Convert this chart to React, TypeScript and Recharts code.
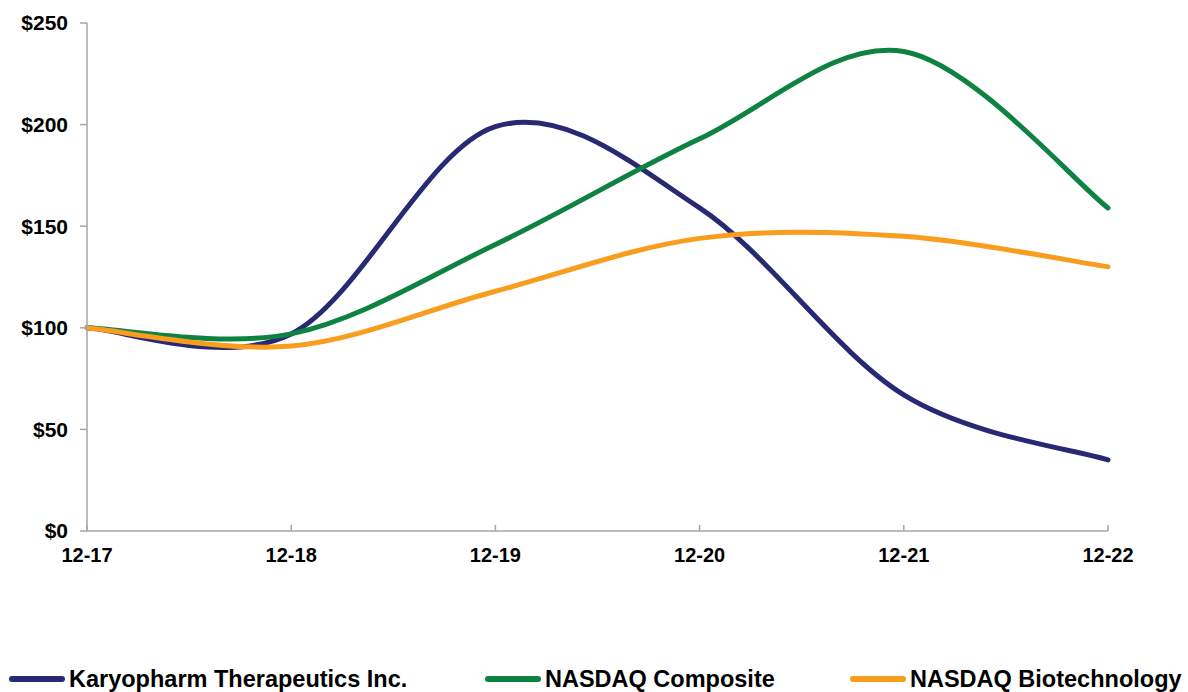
import React from 'react';
import { LineChart, Line, XAxis, YAxis } from 'recharts';

const years = ['12-17', '12-18', '12-19', '12-20', '12-21', '12-22'];
const karyopharm = [100, 97, 199, 159, 67, 35];
const nasdaqComposite = [100, 97, 141, 193, 236, 159];
const nasdaqBiotech = [100, 91, 118, 144, 145, 130];
const yTicks = [0, 50, 100, 150, 200, 250];

const series = [
  { key: 'karyopharm', name: 'Karyopharm Therapeutics Inc.', color: '#272a73', left: 9 },
  { key: 'composite', name: 'NASDAQ Composite', color: '#0e8241', left: 485 },
  { key: 'biotech', name: 'NASDAQ Biotechnology', color: '#f99d1e', left: 850 },
];

const data = years.map((year, i) => ({
  year,
  karyopharm: karyopharm[i],
  composite: nasdaqComposite[i],
  biotech: nasdaqBiotech[i],
}));

// Excel-style smoothed line (Catmull-Rom as cubic beziers)
const excelCurve = (context: any) => {
  let pts: number[][] = [];
  return {
    areaStart() {},
    areaEnd() {},
    lineStart() {
      pts = [];
    },
    lineEnd() {
      if (!pts.length) return;
      context.moveTo(pts[0][0], pts[0][1]);
      for (let i = 0; i < pts.length - 1; i++) {
        const p0 = pts[Math.max(i - 1, 0)];
        const p1 = pts[i];
        const p2 = pts[i + 1];
        const p3 = pts[Math.min(i + 2, pts.length - 1)];
        context.bezierCurveTo(
          p1[0] + (p2[0] - p0[0]) / 6,
          p1[1] + (p2[1] - p0[1]) / 6,
          p2[0] - (p3[0] - p1[0]) / 6,
          p2[1] - (p3[1] - p1[1]) / 6,
          p2[0],
          p2[1]
        );
      }
    },
    point(x: number, y: number) {
      pts.push([+x, +y]);
    },
  };
};

const font = '"Liberation Sans", Arial, sans-serif';
const axisGray = '#a6a6a6';

// x ticks in the original point up into the plot
const XTick = (props: any) => {
  const { x, y, payload } = props;
  return (
    <g>
      <line x1={x} y1={y} x2={x} y2={y - 6} stroke={axisGray} strokeWidth={1.5} />
      <text x={x} y={y + 31} textAnchor="middle" fill="#000" fontSize={20} fontWeight="bold" fontFamily={font}>
        {payload.value}
      </text>
    </g>
  );
};

export default function App() {
  return (
    <div style={{ position: 'absolute', left: 0, top: 0, width: 1188, height: 692, background: '#fff' }}>
      <LineChart width={1188} height={692} data={data} margin={{ top: 23, right: 80, left: 0, bottom: 131 }}>
        <XAxis
          dataKey="year"
          tick={<XTick />}
          axisLine={{ stroke: axisGray, strokeWidth: 1.5 }}
          tickLine={false}
          tickSize={0}
          tickMargin={0}
          height={30}
          interval={0}
        />
        <YAxis
          domain={[0, 250]}
          ticks={yTicks}
          tickFormatter={v => `$${v}`}
          tick={{ fill: '#000', fontSize: 21, fontWeight: 'bold', fontFamily: font }}
          axisLine={{ stroke: axisGray, strokeWidth: 1.5 }}
          tickLine={{ stroke: axisGray, strokeWidth: 1.5 }}
          tickSize={7}
          tickMargin={12}
          width={87}
          interval={0}
        />
        {series.map(s => (
          <Line
            key={s.key}
            dataKey={s.key}
            name={s.name}
            type={excelCurve as any}
            stroke={s.color}
            strokeWidth={5}
            strokeLinecap="round"
            dot={false}
            activeDot={false}
            isAnimationActive={false}
          />
        ))}
      </LineChart>
      {series.map(s => (
        <div
          key={s.key}
          style={{ position: 'absolute', left: s.left, top: 664, height: 30, display: 'flex', alignItems: 'center', fontFamily: font }}
        >
          <div style={{ width: 56, height: 6, borderRadius: 3, background: s.color, marginRight: 4 }} />
          <span style={{ fontSize: 23.5, fontWeight: 'bold', color: '#000', whiteSpace: 'nowrap' }}>{s.name}</span>
        </div>
      ))}
    </div>
  );
}
